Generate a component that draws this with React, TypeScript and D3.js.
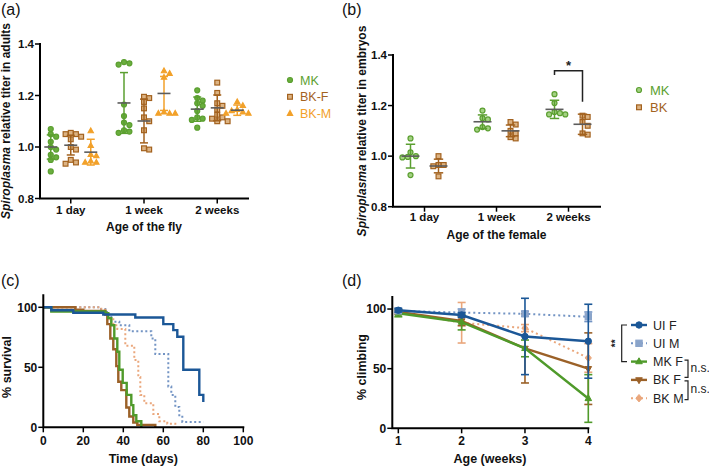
import React from "react";
import * as d3 from "d3";

const FONT = "'Liberation Sans', Arial, Helvetica, sans-serif";

// ---------------- Panel (a): titer in adults ----------------
const ageCats = ["1 day", "1 week", "2 weeks"];
const adultNames = ["MK", "BK-F", "BK-M"];
const adultMK = [
  [1.07, 1.05, 1.04, 1.02, 1.0, 0.99, 0.97, 0.96, 0.95, 0.905],
  [1.33, 1.325, 1.32, 1.165, 1.12, 1.095, 1.085, 1.065, 1.06, 1.055],
  [1.22, 1.19, 1.18, 1.17, 1.16, 1.14, 1.115, 1.11, 1.105, 1.075],
];
const adultMKMean = [1.0, 1.171, 1.147];
const adultMKSd = [0.047, 0.118, 0.047];
const adultBKF = [
  [1.055, 1.05, 1.05, 1.04, 1.03, 1.0, 0.99, 0.95, 0.94, 0.935],
  [1.195, 1.19, 1.175, 1.15, 1.115, 1.1, 1.065, 0.995, 0.99],
  [1.25, 1.21, 1.17, 1.16, 1.145, 1.125, 1.115, 1.11, 1.1, 1.1],
];
const adultBKFMean = [1.007, 1.101, 1.152];
const adultBKFSd = [0.038, 0.085, 0.05];
const adultBKM = [
  [1.062, 1.005, 0.97, 0.965, 0.945, 0.94, 0.94],
  [1.295, 1.285, 1.27, 1.135, 1.13, 1.13, 1.13],
  [1.175, 1.16, 1.145, 1.14, 1.135, 1.13, 1.13],
];
const adultBKMMean = [0.98, 1.208, 1.143];
const adultBKMSd = [0.05, 0.066, 0.02];
const titerTicks = [0.8, 1.0, 1.2, 1.4];

// ---------------- Panel (b): titer in embryos ----------------
const embryoNames = ["MK", "BK"];
const embryoMK = [
  [1.07, 1.015, 1.0, 0.997, 0.995, 0.925],
  [1.18, 1.15, 1.145, 1.115, 1.11, 1.105],
  [1.245, 1.21, 1.175, 1.17, 1.165, 1.165],
];
const embryoMKMean = [1.0, 1.136, 1.185];
const embryoMKSd = [0.047, 0.027, 0.036];
const embryoBK = [
  [1.0, 0.965, 0.965, 0.96, 0.92],
  [1.135, 1.125, 1.1, 1.09, 1.075, 1.07],
  [1.16, 1.155, 1.135, 1.12, 1.09, 1.085],
];
const embryoBKMean = [0.961, 1.1, 1.126];
const embryoBKSd = [0.027, 0.023, 0.04];
const sigTop = 1.338;
const sigLeftEnd = 1.321;
const sigRightEnd = 1.215;
const sigLabel = "*";

// ---------------- Panel (c): survival ----------------
const survUIF: [number, number][] = [[0, 100], [4, 97.5], [15, 95.5], [30, 94], [46, 91.5], [60, 86], [65, 81], [67, 75.5], [70, 48], [78, 27], [80, 21]];
const survUIM: [number, number][] = [[0, 100], [28, 98.5], [31, 96], [32.5, 93], [34, 88], [38, 85], [43, 80], [54, 74], [56, 61], [62.5, 34], [64, 27], [66, 17], [68, 10], [69.5, 4.5], [80, 4.5]];
const survMKF: [number, number][] = [[0, 100], [4, 96.5], [31, 95], [32.5, 91], [34, 85], [35.5, 74], [37, 63], [38, 48], [39.7, 37], [41.7, 27], [44, 18.5], [45, 10], [46.5, 5], [49, 0]];
const survBKF: [number, number][] = [[0, 100], [16, 98], [20, 97], [31, 94], [32, 86], [33.5, 74], [35, 65], [36.5, 51], [37.5, 38], [39, 31], [41.5, 16.5], [43, 9], [45, 4], [47, 2], [56, 0]];
const survBKM: [number, number][] = [[0, 100], [29, 98], [31, 94], [33, 90], [35, 85], [37, 82], [41, 68], [45.5, 56], [47.5, 42], [48.5, 27], [50.5, 20], [55, 11], [58, 5], [62, 3], [66, 0]];
const dayTicks = [0, 20, 40, 60, 80, 100];
const pctTicks = [0, 50, 100];

// ---------------- Panel (d): climbing ----------------
const weeks = [1, 2, 3, 4];
const climbNames = ["UI F", "UI M", "MK F", "BK F", "BK M"];
const climbUIF = [99, 95, 77, 73];
const climbUIFErr = [1.5, 2, 32, 31];
const climbUIM = [98.5, 97, 96, 93.5];
const climbUIMErr = [1, 3, 2, 4];
const climbMKF = [96.5, 89, 67, 25];
const climbMKFErr = [3, 6.5, 7, 20];
const climbBKF = [97.5, 90, 67, 50];
const climbBKFErr = [2, 4, 29, 30];
const climbBKM = [98, 88.5, 84, 59];
const climbBKMErr = [1, 17, 3, 12];

// ---------------- styles ----------------
const GREEN = "#5b9f30";
const BROWN = "#a3621f";
const ORANGE = "#f2a12a";
const DBLUE = "#1b5797";
const LBLUE = "#7394c4";
const PEACH = "#eaa77c";
const CGREEN = "#4f9a2a";
const CBROWN = "#9b6128";
const MEAN = "#5c5c5c";

function Marker({ shape, x, y, s, fill, stroke, sw = 1 }: any) {
  if (shape === "circle") return <circle cx={x} cy={y} r={s} fill={fill} stroke={stroke} strokeWidth={sw} />;
  if (shape === "square")
    return <rect x={x - s} y={y - s} width={2 * s} height={2 * s} fill={fill} stroke={stroke} strokeWidth={sw} />;
  if (shape === "triangle")
    return <path d={`M${x},${y - s * 1.15}L${x + s},${y + s * 0.65}L${x - s},${y + s * 0.65}Z`} fill={fill} stroke={stroke} strokeWidth={sw} />;
  if (shape === "triangleDown")
    return <path d={`M${x},${y + s * 1.15}L${x + s},${y - s * 0.65}L${x - s},${y - s * 0.65}Z`} fill={fill} stroke={stroke} strokeWidth={sw} />;
  return <path d={`M${x},${y - s * 1.2}L${x + s},${y}L${x},${y + s * 1.2}L${x - s},${y}Z`} fill={fill} stroke={stroke} strokeWidth={sw} />;
}

function swarm(vals: number[], y: (v: number) => number, diam: number) {
  const pts: { v: number; dx: number; py: number }[] = [];
  const sorted = [...vals].sort((a, b) => b - a);
  for (const v of sorted) {
    const py = y(v);
    let chosen = 0;
    for (let k = 0; k < 40; k++) {
      const dx = k === 0 ? 0 : (k % 2 === 1 ? 1 : -1) * Math.ceil(k / 2) * diam * 0.5;
      const ok = pts.every((p) => Math.hypot(p.dx - dx, p.py - py) >= diam * 0.92);
      if (ok) {
        chosen = dx;
        break;
      }
    }
    pts.push({ v, dx: chosen, py });
  }
  return pts;
}

function Frame({ x0, x1, yTop, yBot }: any) {
  return (
    <path d={`M${x0},${yTop}V${yBot}H${x1}`} fill="none" stroke="#000" strokeWidth={2} strokeLinecap="square" />
  );
}

function YTicks({ scale, x, ticks, fmt, fs }: any) {
  return (
    <g>
      {ticks.map((t: number) => (
        <g key={t}>
          <line x1={x - 5} x2={x} y1={scale(t)} y2={scale(t)} stroke="#000" strokeWidth={1.5} />
          <text x={x - 6} y={scale(t)} dy="0.36em" textAnchor="end" fontSize={fs} fontWeight="bold" fill="#111">
            {fmt(t)}
          </text>
        </g>
      ))}
    </g>
  );
}

function XTicks({ positions, labels, y, labelY, fs }: any) {
  return (
    <g>
      {positions.map((px: number, i: number) => (
        <g key={i}>
          <line x1={px} x2={px} y1={y} y2={y + 5} stroke="#000" strokeWidth={1.5} />
          <text x={px} y={labelY} textAnchor="middle" fontSize={fs} fontWeight="bold" fill="#111">
            {labels[i]}
          </text>
        </g>
      ))}
    </g>
  );
}

function ScatterGroup({ vals, mean, sd, cx, y, shape, fill, stroke, barColor, s, meanHalf, capHalf }: any) {
  const pts = swarm(vals, y, s * 2 + 0.4);
  return (
    <g>
      {pts.map((p, i) => (
        <Marker key={i} shape={shape} x={cx + p.dx} y={p.py} s={s} fill={fill} stroke={stroke} sw={1.2} />
      ))}
      <line x1={cx} x2={cx} y1={y(mean + sd)} y2={y(mean - sd)} stroke={barColor} strokeWidth={1.5} />
      <line x1={cx - capHalf} x2={cx + capHalf} y1={y(mean + sd)} y2={y(mean + sd)} stroke={barColor} strokeWidth={1.5} />
      <line x1={cx - capHalf} x2={cx + capHalf} y1={y(mean - sd)} y2={y(mean - sd)} stroke={barColor} strokeWidth={1.5} />
      <line x1={cx - meanHalf} x2={cx + meanHalf} y1={y(mean)} y2={y(mean)} stroke={MEAN} strokeWidth={1.6} />
    </g>
  );
}

function PanelA() {
  const x = d3.scalePoint<string>().domain(ageCats).range([40, 248]).padding(0.42);
  const y = d3.scaleLinear().domain([0.8, 1.4]).range([198.5, 44]);
  const off = d3.scalePoint<string>().domain(adultNames).range([-20, 20]);
  const groups = [
    { name: "MK", vals: adultMK, mean: adultMKMean, sd: adultMKSd, shape: "circle", fill: "#6aae3e", stroke: GREEN, bar: GREEN, s: 2.5 },
    { name: "BK-F", vals: adultBKF, mean: adultBKFMean, sd: adultBKFSd, shape: "square", fill: "#dcb383", stroke: BROWN, bar: BROWN, s: 2.4 },
    { name: "BK-M", vals: adultBKM, mean: adultBKMMean, sd: adultBKMSd, shape: "triangle", fill: ORANGE, stroke: ORANGE, bar: ORANGE, s: 2.6 },
  ];
  return (
    <g>
      <text x={1} y={15} fontSize={16} fill="#111">(a)</text>
      {groups.map((g) =>
        ageCats.map((c, i) => (
          <ScatterGroup key={g.name + c} vals={g.vals[i]} mean={g.mean[i]} sd={g.sd[i]} cx={(x(c) as number) + (off(g.name) as number)} y={y}
            shape={g.shape} fill={g.fill} stroke={g.stroke} barColor={g.bar} s={g.s} meanHalf={6.5} capHalf={4} />
        ))
      )}
      <Frame x0={40} x1={248} yTop={44} yBot={198.5} />
      <YTicks scale={y} x={40} ticks={titerTicks} fmt={d3.format(".1f")} fs={11.5} />
      <XTicks positions={ageCats.map((c) => x(c))} labels={ageCats} y={198.5} labelY={214} fs={11.5} />
      <text x={144} y={231} textAnchor="middle" fontSize={12} fontWeight="bold" fill="#111">Age of the fly</text>
      <text transform="translate(10,121) rotate(-90)" textAnchor="middle" fontSize={12} fontWeight="bold" fill="#111">
        <tspan fontStyle="italic">Spiroplasma</tspan> relative titer in adults
      </text>
      {groups.map((g, i) => (
        <g key={g.name}>
          <Marker shape={g.shape} x={290} y={80 + i * 16.8} s={g.s} fill={g.fill} stroke={g.stroke} sw={1.2} />
          <text x={300} y={80 + i * 16.8} dy="0.36em" fontSize={12.5} fill={g.bar}>{g.name}</text>
        </g>
      ))}
    </g>
  );
}

function PanelB() {
  const x = d3.scalePoint<string>().domain(ageCats).range([393, 600]).padding(0.4375);
  const y = d3.scaleLinear().domain([0.8, 1.4]).range([206.7, 55]);
  const off = d3.scalePoint<string>().domain(embryoNames).range([-14, 14]);
  const groups = [
    { name: "MK", vals: embryoMK, mean: embryoMKMean, sd: embryoMKSd, shape: "circle", fill: "#a3d182", stroke: GREEN, bar: GREEN, s: 2.5 },
    { name: "BK", vals: embryoBK, mean: embryoBKMean, sd: embryoBKSd, shape: "square", fill: "#dcb383", stroke: BROWN, bar: BROWN, s: 2.4 },
  ];
  const xl = (x("2 weeks") as number) + (off("MK") as number);
  const xr = (x("2 weeks") as number) + (off("BK") as number);
  return (
    <g>
      <text x={342} y={15} fontSize={16} fill="#111">(b)</text>
      {groups.map((g) =>
        ageCats.map((c, i) => (
          <ScatterGroup key={g.name + c} vals={g.vals[i]} mean={g.mean[i]} sd={g.sd[i]} cx={(x(c) as number) + (off(g.name) as number)} y={y}
            shape={g.shape} fill={g.fill} stroke={g.stroke} barColor={g.bar} s={g.s} meanHalf={9} capHalf={4.7} />
        ))
      )}
      <path d={`M${xl},${y(sigLeftEnd)}V${y(sigTop)}H${xr}V${y(sigRightEnd)}`} fill="none" stroke="#222" strokeWidth={1.5} />
      <text x={(xl + xr) / 2} y={y(sigTop) - 1} textAnchor="middle" fontSize={13} fontWeight="bold" fill="#222">{sigLabel}</text>
      <Frame x0={393} x1={600} yTop={55} yBot={206.7} />
      <YTicks scale={y} x={393} ticks={titerTicks} fmt={d3.format(".1f")} fs={11.5} />
      <XTicks positions={ageCats.map((c) => x(c))} labels={ageCats} y={206.7} labelY={220.5} fs={11.5} />
      <text x={496.5} y={238.5} textAnchor="middle" fontSize={12} fontWeight="bold" fill="#111">Age of the female</text>
      <text transform="translate(366,131) rotate(-90)" textAnchor="middle" fontSize={12} fontWeight="bold" fill="#111">
        <tspan fontStyle="italic">Spiroplasma</tspan> relative titer in embryos
      </text>
      {groups.map((g, i) => (
        <g key={g.name}>
          <Marker shape={g.shape} x={639} y={90 + i * 17.3} s={g.s} fill={g.fill} stroke={g.stroke} sw={1.2} />
          <text x={650} y={90 + i * 17.3} dy="0.36em" fontSize={13} fill={g.bar}>{g.name}</text>
        </g>
      ))}
    </g>
  );
}

function PanelC() {
  const x = d3.scaleLinear().domain([0, 100]).range([43.3, 243.3]);
  const y = d3.scaleLinear().domain([0, 110]).range([427.3, 295.3]);
  const line = d3.line<[number, number]>().x((d) => x(d[0])).y((d) => y(d[1])).curve(d3.curveStepAfter);
  const curves = [
    { d: survUIM, color: LBLUE, dash: "2 2.5", w: 2 },
    { d: survBKM, color: PEACH, dash: "2 2.5", w: 2 },
    { d: survBKF, color: CBROWN, dash: null, w: 2.4 },
    { d: survMKF, color: CGREEN, dash: null, w: 2.4 },
    { d: survUIF, color: DBLUE, dash: null, w: 2.4 },
  ];
  return (
    <g>
      <text x={1} y={286} fontSize={16} fill="#111">(c)</text>
      {curves.map((c, i) => (
        <path key={i} d={line(c.d) || ""} fill="none" stroke={c.color} strokeWidth={c.w} strokeDasharray={c.dash || undefined} />
      ))}
      <Frame x0={43.3} x1={243.3} yTop={295.3} yBot={427.3} />
      <YTicks scale={y} x={43.3} ticks={pctTicks} fmt={d3.format("d")} fs={12} />
      <XTicks positions={dayTicks.map((t) => x(t))} labels={dayTicks.map(String)} y={427.3} labelY={445} fs={12} />
      <text x={143.3} y={462.5} textAnchor="middle" fontSize={12.5} fontWeight="bold" fill="#111">Time (days)</text>
      <text transform="translate(11,367) rotate(-90)" textAnchor="middle" fontSize={12.5} fontWeight="bold" fill="#111">% survival</text>
    </g>
  );
}

function PanelD() {
  const x = d3.scaleLinear().domain([0.905, 4]).range([392.3, 588.3]);
  const y = d3.scaleLinear().domain([0, 110]).range([428.3, 297.1]);
  const series = [
    { name: climbNames[0], v: climbUIF, e: climbUIFErr, color: DBLUE, mfill: DBLUE, dash: null, shape: "circle", s: 3.2 },
    { name: climbNames[1], v: climbUIM, e: climbUIMErr, color: LBLUE, mfill: "#8aa4ca", dash: "2 3", shape: "square", s: 3.2 },
    { name: climbNames[2], v: climbMKF, e: climbMKFErr, color: CGREEN, mfill: CGREEN, dash: null, shape: "triangle", s: 3.3 },
    { name: climbNames[3], v: climbBKF, e: climbBKFErr, color: CBROWN, mfill: CBROWN, dash: null, shape: "triangleDown", s: 3.3 },
    { name: climbNames[4], v: climbBKM, e: climbBKMErr, color: PEACH, mfill: PEACH, dash: "2 3", shape: "diamond", s: 3.1 },
  ];
  const order = [4, 3, 2, 1, 0];
  const line = d3.line<number>().x((_, i) => x(weeks[i])).y((d) => y(d));
  const legY = (i: number) => 325 + i * 18.3;
  return (
    <g>
      <text x={342} y={286} fontSize={16} fill="#111">(d)</text>
      {order.map((k) => {
        const s = series[k];
        return (
          <g key={s.name}>
            {weeks.map((w, i) => (
              <g key={w}>
                <line x1={x(w)} x2={x(w)} y1={y(s.v[i] + s.e[i])} y2={y(s.v[i] - s.e[i])} stroke={s.color} strokeWidth={1.6} />
                <line x1={x(w) - 4} x2={x(w) + 4} y1={y(s.v[i] + s.e[i])} y2={y(s.v[i] + s.e[i])} stroke={s.color} strokeWidth={1.6} />
                <line x1={x(w) - 4} x2={x(w) + 4} y1={y(s.v[i] - s.e[i])} y2={y(s.v[i] - s.e[i])} stroke={s.color} strokeWidth={1.6} />
              </g>
            ))}
            <path d={line(s.v) || ""} fill="none" stroke={s.color} strokeWidth={s.dash ? 2 : 2.4} strokeDasharray={s.dash || undefined} />
            {weeks.map((w, i) => (
              <Marker key={w} shape={s.shape} x={x(w)} y={y(s.v[i])} s={s.s} fill={s.mfill} stroke={s.mfill} sw={1} />
            ))}
          </g>
        );
      })}
      <Frame x0={392.3} x1={588.3} yTop={297.1} yBot={428.3} />
      <YTicks scale={y} x={392.3} ticks={pctTicks} fmt={d3.format("d")} fs={12} />
      <XTicks positions={weeks.map((w) => x(w))} labels={weeks.map(String)} y={428.3} labelY={445} fs={12} />
      <text x={490} y={462.5} textAnchor="middle" fontSize={12.5} fontWeight="bold" fill="#111">Age (weeks)</text>
      <text transform="translate(366,367) rotate(-90)" textAnchor="middle" fontSize={12.5} fontWeight="bold" fill="#111">% climbing</text>
      {series.map((s, i) => (
        <g key={s.name}>
          <line x1={631} x2={647} y1={legY(i)} y2={legY(i)} stroke={s.color} strokeWidth={s.dash ? 2 : 2.4} strokeDasharray={s.dash || undefined} />
          <Marker shape={s.shape} x={639} y={legY(i)} s={s.s} fill={s.mfill} stroke={s.mfill} sw={1} />
          <text x={653} y={legY(i)} dy="0.36em" fontSize={12.5} fill="#222">{s.name}</text>
        </g>
      ))}
      <path d={`M627,${legY(0)}H621.7V${legY(2)}H627`} fill="none" stroke="#222" strokeWidth={1.2} />
      <text transform={`translate(618.5,${(legY(0) + legY(2)) / 2}) rotate(-90)`} textAnchor="middle" fontSize={10} fontWeight="bold" fill="#222">**</text>
      <path d={`M684.5,${legY(2) - 1.5}H688V${legY(3) - 2.5}H684.5`} fill="none" stroke="#222" strokeWidth={1.2} />
      <text x={690.5} y={legY(2) + 10.5} fontSize={12} fill="#222">n.s.</text>
      <path d={`M684.5,${legY(3) + 1}H688V${legY(4) + 1.5}H684.5`} fill="none" stroke="#222" strokeWidth={1.2} />
      <text x={690.5} y={legY(3) + 13} fontSize={12} fill="#222">n.s.</text>
    </g>
  );
}

export default function App() {
  return (
    <svg width={709} height={468} style={{ position: "absolute", left: 0, top: 0, background: "#fff" }} fontFamily={FONT}>
      <rect width={709} height={468} fill="#fff" />
      <PanelA />
      <PanelB />
      <PanelC />
      <PanelD />
    </svg>
  );
}
